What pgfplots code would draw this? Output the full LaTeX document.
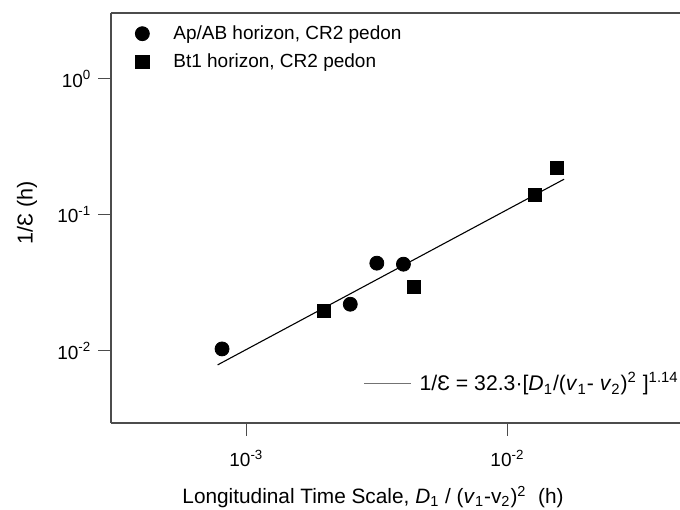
\documentclass[border=0pt]{standalone}
\usepackage{fontspec}
\setmainfont{Liberation Sans}
\usepackage{pgfplots}
\pgfplotsset{compat=1.18}
\begin{document}
\fontsize{9.5bp}{11.5bp}\selectfont
\begin{tikzpicture}
\useasboundingbox (0,0) rectangle (340bp,255bp);
\begin{axis}[
  at={(55.5bp,43.5bp)}, anchor=south west,
  scale only axis, width=284.5bp, height=205bp,
  xmode=log, ymode=log,
  xmin=3.03e-4, xmax=0.0458,
  ymin=2.95e-3, ymax=3.05,
  axis x line*=box, axis y line*=left,
  axis line style={black!70, line width=0.6bp},
  xtick pos=bottom, ytick pos=left,
  xtick={1e-3,1e-2}, xticklabels={10\textsuperscript{-3},10\textsuperscript{-2}},
  ytick={1e-2,1e-1,1}, yticklabels={10\textsuperscript{-2},10\textsuperscript{-1},10\textsuperscript{0}},
  xminorticks=false, yminorticks=false,
  tick align=outside, major tick length=6.5bp,
  tick style={black!70, line width=0.6bp},
  xticklabel style={font=\fontsize{9.5bp}{11.5bp}\selectfont, yshift=-3.5bp},
  yticklabel style={font=\fontsize{9.5bp}{11.5bp}\selectfont},
  xlabel={Longitudinal Time Scale, \textit{D}\textsubscript{1} / (\textit{v}\textsubscript{1}-v\textsubscript{2})\textsuperscript{2}~~(h)},
  ylabel={1/Ɛ (h)},
  xlabel style={at={(axis description cs:0.4605,-0.18)}, anchor=center, font=\fontsize{10.4bp}{12.5bp}\selectfont},
  ylabel style={at={(axis description cs:-0.1476,0.512)}, anchor=center, font=\fontsize{10.8bp}{12.5bp}\selectfont},
  legend style={draw=none, fill=none, at={(axis description cs:0,1)}, anchor=north west,
    xshift=9bp, yshift=-2bp, font=\fontsize{9.5bp}{11.5bp}\selectfont,
    row sep=2bp, /tikz/every odd column/.append style={column sep=10bp}},
  legend cell align=left,
]
\addplot[only marks, mark=*, mark size=3.5bp, black] coordinates {
  (8.07e-4,0.01034) (2.50e-3,0.02203) (3.16e-3,0.04416) (3.996e-3,0.0434)
};
\addlegendentry{Ap/AB horizon, CR2 pedon}
\addplot[only marks, mark=square*, mark size=3.3bp, black] coordinates {
  (1.986e-3,0.01959) (4.385e-3,0.02973) (0.01276,0.1396) (0.01547,0.2228)
};
\addlegendentry{Bt1 horizon, CR2 pedon}
\end{axis}
\begin{axis}[
  at={(55.5bp,43.5bp)}, anchor=south west,
  scale only axis, width=284.5bp, height=205bp,
  xmode=log, ymode=log,
  xmin=3.03e-4, xmax=0.0458,
  ymin=2.95e-3, ymax=3.05,
  hide axis,
  legend style={draw=none, fill=none, at={(axis description cs:1,0)}, anchor=south east,
    xshift=4.5bp, yshift=10.5bp, font=\fontsize{10.6bp}{12.5bp}\selectfont,
    /tikz/every odd column/.append style={column sep=2bp}},
  legend image code/.code={\draw[#1] (0bp,0bp) -- (23.5bp,0bp);},
  legend image post style={black!55},
]
\addplot[black, line width=0.55bp] coordinates {(7.76e-4,7.89e-3) (0.01648,0.1830)};
\addlegendentry{1/Ɛ = 32.3·[\textit{D}\textsubscript{1}/(\textit{v}\textsubscript{1}- \textit{v}\textsubscript{2})\textsuperscript{2} ]\textsuperscript{1.14}}
\end{axis}
\end{tikzpicture}
\end{document}
